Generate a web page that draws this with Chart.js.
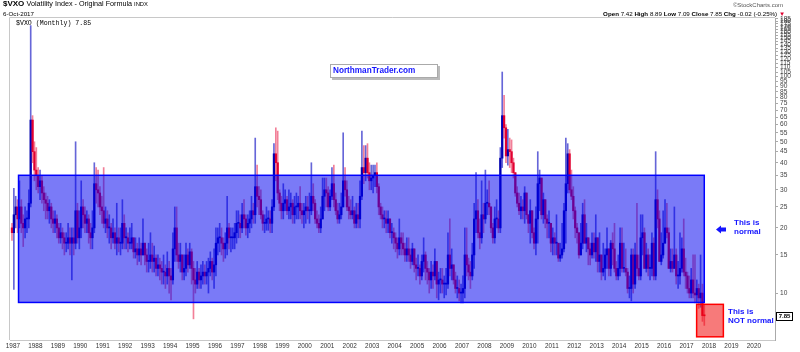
<!DOCTYPE html>
<html>
<head>
<meta charset="utf-8">
<title>$VXO Monthly</title>
<script src="https://cdn.jsdelivr.net/npm/chart.js@4.4.1/dist/chart.umd.min.js"></script>
<style>
    body { margin: 0; background: #fff; }
    #wrap { position: relative; width: 800px; height: 352px; font-family: "Liberation Sans", Arial, sans-serif; overflow: hidden; }
    #vxoChart { position: absolute; left: 0; top: 0; }
    .t { position: absolute; white-space: nowrap; line-height: 1; color: #000; }
    .note { color: #1414ff; font-weight: bold; font-size: 8px; line-height: 9.3px; }
</style>
</head>
<body>
<div id="wrap">
    <canvas id="vxoChart" width="800" height="352"></canvas>

    <div class="t" style="left:3px;top:0px;font-size:8px;font-weight:bold;">$VXO <span style="font-weight:normal;font-size:7.2px;">Volatility Index - Original Formula <span style="font-size:5.8px;">INDX</span></span></div>
    <div class="t" style="left:3px;top:10.5px;font-size:6.2px;">6-Oct-2017</div>
    <div class="t" style="left:16px;top:21px;font-size:6.6px;font-family:'Liberation Mono',monospace;">$VXO (Monthly) 7.85</div>

    <div class="t" style="right:17px;top:2px;font-size:6px;color:#555;">&copy;StockCharts.com</div>
    <div class="t" style="right:15px;top:11px;font-size:6.2px;"><b>Open</b> 7.42 <b>High</b> 8.89 <b>Low</b> 7.09 <b>Close</b> 7.85 <b>Chg</b> -0.02 (-0.25%) <span style="color:#e00030;">&#9660;</span></div>

    <div class="t" style="left:330px;top:64px;width:106px;height:12px;border:1px solid #aaa;background:#fff;box-shadow:2px 2px 0 #bbb;">
        <span style="position:absolute;left:2px;top:2px;font-size:8.2px;font-weight:bold;color:#1414ff;">NorthmanTrader.com</span>
    </div>

    <div class="t note" style="left:734px;top:218px;">This is<br>normal</div>
    <div class="t note" style="left:728px;top:307px;">This is<br>NOT normal</div>

    <div class="t" style="left:776px;top:312px;width:15px;height:7px;border:1px solid #000;background:#fff;font-size:6px;font-weight:bold;text-align:center;line-height:7px;">7.85</div>
</div>

<script>
// monthly bars, first bar is Dec 1986
const startYear = 1986;
const startMonth = 11;
const firstOpen = 20;

const closes = [
    19,
    23, 25, 22, 25, 21, 20, 22, 22, 26, 63, 45, 37,               // 1987
    35, 31, 33, 29, 27, 26, 24, 25, 22, 21, 22, 20,               // 1988
    18, 19, 18, 17, 17, 18, 17, 18, 17, 24, 18, 20,               // 1989
    25, 23, 21, 22, 19, 18, 20, 32, 30, 29, 25, 24,               // 1990
    21, 22, 20, 20, 18, 19, 17, 18, 17, 17, 21, 18,               // 1991
    18, 17, 17, 18, 15.5, 16, 15, 16, 15, 17, 15, 14,             // 1992
    14, 15, 14, 14.5, 13, 13.5, 13, 12.5, 12.5, 12, 13, 12,       // 1993
    11.5, 16, 20, 15, 14, 15, 12.5, 13, 15, 13.5, 15.5, 13,       // 1994
    11.5, 11, 12.5, 11.5, 12, 12.5, 12, 12.5, 13, 14, 12.5, 13.5, // 1995
    17, 18, 18, 17, 16, 17, 20, 18, 18, 18, 19, 21,               // 1996
    21, 20, 23, 22, 20, 21, 22, 24, 23, 31, 28, 27,               // 1997
    23, 21, 21, 22, 22, 21, 25, 44, 40, 29, 26, 24,               // 1998
    26, 27, 24, 25, 26, 23, 25, 25, 26, 24, 23, 24,               // 1999
    25, 24, 24, 28, 26, 22, 21, 20, 22, 28, 30, 29,               // 2000
    25, 28, 32, 27, 24, 22, 23, 25, 33, 30, 25, 24,               // 2001
    23, 24, 21, 23, 22, 28, 38, 36, 42, 36, 33, 34,               // 2002
    35, 36, 31, 25, 23, 22, 22, 21, 22, 19, 19, 18,               // 2003
    17, 16, 18, 17, 16, 15, 16, 15, 14, 16, 13.5, 13,             // 2004
    13, 12, 14, 15, 13, 12.5, 11.5, 12.5, 12, 14, 11, 11.5,       // 2005
    11.5, 11, 11, 11, 15, 13, 13.5, 11.5, 10.5, 10.5, 10, 10,     // 2006
    10.5, 15, 13.5, 12.5, 12, 15, 22, 24, 19, 18, 23, 22,         // 2007
    26, 26, 25, 20, 18, 22, 22, 20, 42, 66, 58, 43,               // 2008
    46, 45, 40, 36, 29, 26, 24, 25, 24, 29, 23, 21,               // 2009
    24, 19, 17, 22, 32, 34, 23, 27, 22, 21, 21, 17,               // 2010
    18, 17, 17, 14.5, 15, 16, 24, 32, 44, 30, 28, 24,             // 2011
    20, 19, 15, 17, 23, 17, 18, 16, 15, 17, 15.5, 18,             // 2012
    14, 15, 12.5, 13, 15, 16, 13, 17, 16, 13, 12, 13,             // 2013
    17, 13, 13, 12.5, 10.5, 10.5, 15, 11, 15, 13, 12, 18,         // 2014
    19, 13, 15, 13, 13, 17, 12, 27, 22, 14, 15, 17,               // 2015
    20, 19, 13, 14, 13, 15, 12, 12, 13, 16, 12.5, 12,             // 2016
    10.5, 10, 11.5, 10, 9.8, 10.5, 9.5, 10, 7.87, 7.85            // 2017
];

const highs = [
    21,
    30.5, 28, 27, 33, 27, 23, 25, 24, 30, 172, 66, 50,            // 1987
    47, 38, 37, 35, 31, 29, 28, 27, 26, 24, 24, 23,               // 1988
    21, 21, 20, 19, 19, 21, 20, 20, 20, 50, 26, 24,               // 1989
    33, 27, 25, 24, 23, 21, 24, 40, 38, 37, 31, 28,               // 1990
    38, 25, 24, 23, 21, 22, 20, 26, 20, 20, 27, 23,               // 1991
    20, 19, 20, 21, 18, 18, 17, 18, 17, 22, 17, 16,               // 1992
    17, 19, 17, 16.5, 15, 15, 14.5, 14, 15, 13.5, 15.5, 14,       // 1993
    13, 19, 25, 25, 17, 17, 15, 15, 17, 16, 17, 16,               // 1994
    14, 13, 14, 13, 13.5, 14, 13.5, 14, 14.5, 15.5, 14.5, 16,     // 1995
    20, 20, 21, 20, 18, 19, 28, 21, 20, 20, 21, 24,               // 1996
    24, 23, 26, 27, 23, 23, 24, 28, 26, 52, 39, 31,               // 1997
    30, 24, 23, 25, 24, 24, 27, 49, 58, 56, 30, 28,               // 1998
    32, 30, 28, 30, 29, 27, 28, 29, 28, 31, 26, 26,               // 1999
    28, 28, 29, 40, 32, 27, 24, 23, 25, 34, 34, 34,               // 2000
    31, 30, 38, 39, 29, 26, 26, 29, 55, 38, 33, 28,               // 2001
    27, 28, 25, 26, 26, 33, 56, 48, 48, 49, 40, 39,               // 2002
    39, 39, 40, 32, 26, 25, 24, 24, 24, 22, 21, 20,               // 2003
    19, 18, 22, 19, 19, 17, 18, 18, 16, 17, 16, 14.5,             // 2004
    15, 13.5, 15, 18, 15.5, 14, 13, 14, 13.5, 16, 14, 12.5,       // 2005
    13, 13, 12, 13, 19, 22, 16, 13.5, 12.5, 12, 11.5, 11,         // 2006
    12, 20, 20, 14.5, 14, 17, 26, 36, 27, 22, 33, 26,             // 2007
    37, 30, 33, 25, 21, 25, 27, 24, 47, 105, 82, 60,              // 2008
    57, 52, 51, 42, 36, 31, 29, 28, 27, 31, 27, 23,               // 2009
    27, 24, 20, 25, 45, 37, 34, 29, 27, 23, 24, 21,               // 2010
    20, 19, 23, 17, 17, 21, 26, 52, 49, 46, 37, 31,               // 2011
    25, 21, 19, 21, 26, 27, 21, 18, 17, 19, 19, 23,               // 2012
    18, 19, 15, 17, 16, 20, 16, 17.5, 19, 21, 14, 15,             // 2013
    20, 20, 17, 16, 13, 12, 16, 16, 17, 26, 15, 23,               // 2014
    23, 20, 17, 16, 15, 19, 18, 45, 30, 24, 19, 24,               // 2015
    27, 26, 20, 16, 16, 25, 16, 14, 19, 18, 22, 14.5,             // 2016
    12.5, 12, 13, 15, 15, 11.5, 11, 15, 11, 8.89                  // 2017
];

const lows = [
    17.5,
    10.4, 20, 19, 20, 19, 16.4, 18, 19, 20, 25, 40, 33,           // 1987
    30, 29, 27, 26, 24, 22, 22, 21, 20, 19, 19, 18,               // 1988
    17, 17, 16, 15, 15.5, 16, 15, 11.5, 15, 16, 17, 16,           // 1989
    18, 20, 19, 19, 17, 16, 16, 19, 26, 25, 23, 21,               // 1990
    20, 19, 18, 17, 16, 17, 16, 15, 15.5, 15, 16, 16,             // 1991
    16, 15.5, 16, 16, 14.5, 14.5, 13.5, 14, 13.5, 15, 13.5, 12.5, // 1992
    12.5, 13, 12.5, 12.5, 12, 12, 11.5, 11, 11, 10.5, 11, 10,     // 1993
    9.3, 11, 14, 14, 13, 12.5, 11.5, 11.5, 12, 12.5, 13, 11,      // 1994
    7.6, 10, 10.5, 10.5, 10.5, 11, 11, 11, 10, 12, 11.5, 10.5,    // 1995
    12, 15, 15.5, 15, 14, 14.5, 15, 16, 15.5, 16, 16, 17,         // 1996
    18, 18, 19, 20, 18.5, 18, 19, 20, 21, 21, 25, 23,             // 1997
    22, 19.5, 19, 19.5, 19.5, 19, 19, 24, 33, 27, 24, 22,         // 1998
    22, 24, 23, 22, 22, 21, 21, 22, 22, 22, 21, 20,               // 1999
    21, 22, 21, 23, 24, 21, 20, 19, 19, 22, 24, 25,               // 2000
    24, 24, 27, 25, 23, 21, 21, 22, 25, 28, 24, 22,               // 2001
    22, 22, 20, 20, 20, 20, 27, 32, 33, 34, 30, 30,               // 2002
    29, 31, 29, 23, 22, 20, 20, 19, 19, 18, 17, 16,               // 2003
    15.5, 14.5, 15, 15, 15, 14, 14, 14, 13, 13.5, 12.5, 11.5,     // 2004
    12, 11, 11.5, 12.5, 11.5, 11, 10, 10.5, 10.5, 11.5, 9.5, 9.3, // 2005
    10, 10, 9.5, 9.8, 10.5, 12, 11.5, 11, 10, 9.5, 9.2, 9.0,      // 2006
    9.0, 9.5, 12, 11.5, 10.5, 11.5, 13, 19, 18, 16, 17, 19,       // 2007
    21, 23, 23, 19, 17, 17, 20, 19, 19, 38, 52, 40,               // 2008
    39, 38, 36, 34, 28, 25, 23, 22, 22, 21, 22, 19,               // 2009
    17, 18, 16, 15, 17, 24, 22, 21, 20, 18, 18, 15.5,             // 2010
    15, 15, 15, 14, 14, 14.5, 15.5, 17, 29, 29, 27, 22,           // 2011
    18, 17, 14.5, 15, 16, 17, 15.5, 13.5, 13.5, 14.5, 14.5, 14,   // 2012
    12.5, 12.5, 11.5, 12, 11.5, 13, 12, 12, 13.5, 12.5, 11.5, 11.5, // 2013
    12, 12.5, 12.5, 12, 10, 9.5, 9.2, 10, 10.5, 12, 11.5, 11.5,   // 2014
    15, 13, 12.5, 12, 11.5, 12, 11.5, 11.5, 20, 14, 13.5, 14.5,   // 2015
    17, 18, 13, 12.5, 12.5, 13, 11, 10.5, 11, 12.5, 12, 10.5,     // 2016
    10, 9.5, 9.5, 9.5, 9.0, 9.0, 8.5, 8.6, 7.4, 7.09              // 2017
];

const yearTicks = [1987, 1988, 1989, 1990, 1991, 1992, 1993, 1994, 1995, 1996, 1997, 1998,
    1999, 2000, 2001, 2002, 2003, 2004, 2005, 2006, 2007, 2008, 2009, 2010, 2011, 2012,
    2013, 2014, 2015, 2016, 2017, 2018, 2019, 2020];
const priceTicks = [10, 15, 20, 25, 30, 35, 40, 45, 50, 55, 60, 65, 70, 75, 80, 85, 90, 95,
    100, 105, 110, 115, 120, 125, 130, 135, 140, 145, 150, 155, 160, 165, 170, 175, 180, 185];

// the two drawn zones (years / index level)
const normalZone = { from: 1987.25, to: 2017.79, low: 9.05, high: 35 };
const notNormalZone = { from: 2017.45, to: 2018.64, low: 6.28, high: 8.87 };

const xMin = 1986.87, xMax = 2020.94;
const yMin = 6.07, yMax = 186.5;

const canvas = document.getElementById("vxoChart");
const ctx = canvas.getContext("2d");

const monthTime = i => startYear + (startMonth + i + 0.5) / 12;
const opens = closes.map((c, i) => (i === 0 ? firstOpen : closes[i - 1]));
const isUp = closes.map((c, i) => c >= opens[i]);

const wickData = closes.map((c, i) => ({
    x: monthTime(i),
    y: [Math.min(lows[i], opens[i], c), Math.max(highs[i], opens[i], c)]
}));
const bodyData = closes.map((c, i) => ({
    x: monthTime(i),
    y: [Math.min(opens[i], c), Math.max(opens[i], c)]
}));

const zonePlugin = {
    id: "zones",
    afterDatasetsDraw(chart) {
        const { ctx, chartArea: a, scales: { x, y } } = chart;
        ctx.save();
        const drawZone = (z, fill, line) => {
            const l = x.getPixelForValue(z.from), r = x.getPixelForValue(z.to);
            const t = y.getPixelForValue(z.high), b = y.getPixelForValue(z.low);
            ctx.fillStyle = fill;
            ctx.fillRect(l, t, r - l, b - t);
            ctx.strokeStyle = line;
            ctx.lineWidth = 1.5;
            ctx.strokeRect(l, t, r - l, b - t);
        };
        drawZone(normalZone, "rgba(0,0,240,0.52)", "#0000ff");
        drawZone(notNormalZone, "rgba(240,0,0,0.52)", "#ff0000");

        // left and top frame
        ctx.strokeStyle = "#c8c8c8";
        ctx.lineWidth = 1;
        ctx.beginPath();
        ctx.moveTo(a.left - 0.5, a.bottom);
        ctx.lineTo(a.left - 0.5, a.top - 0.5);
        ctx.lineTo(a.right, a.top - 0.5);
        ctx.stroke();

        // arrow pointing at the box
        ctx.fillStyle = "#1414ff";
        ctx.beginPath();
        ctx.moveTo(716, 229.5);
        ctx.lineTo(721, 225.5);
        ctx.lineTo(721, 227.5);
        ctx.lineTo(726, 227.5);
        ctx.lineTo(726, 231.5);
        ctx.lineTo(721, 231.5);
        ctx.lineTo(721, 233.5);
        ctx.closePath();
        ctx.fill();
        ctx.restore();
    }
};

new Chart(ctx, {
    type: "bar",
    data: {
        datasets: [
            {
                label: "range",
                data: wickData,
                grouped: false,
                barThickness: 1,
                backgroundColor: isUp.map(u => (u ? "rgba(0,0,190,0.6)" : "rgba(230,0,50,0.5)"))
            },
            {
                label: "open-close",
                data: bodyData,
                grouped: false,
                barThickness: 1.6,
                minBarLength: 1,
                backgroundColor: isUp.map(u => (u ? "#0000a8" : "#e00030"))
            }
        ]
    },
    options: {
        responsive: false,
        animation: false,
        layout: { padding: { left: 10, top: 18, right: 0, bottom: 0 } },
        plugins: {
            legend: { display: false },
            tooltip: { enabled: false }
        },
        scales: {
            x: {
                type: "linear",
                offset: false,
                min: xMin,
                max: xMax,
                afterBuildTicks: scale => {
                    scale.ticks = yearTicks.map(v => ({ value: v }));
                },
                afterFit: scale => { scale.height = 12; },
                grid: { display: true, drawOnChartArea: false, drawTicks: false },
                border: { display: true, color: "#c8c8c8" },
                ticks: {
                    autoSkip: false,
                    maxRotation: 0,
                    padding: 2,
                    color: "#333",
                    font: { family: "Liberation Sans", size: 6.4 },
                    callback: v => String(v)
                }
            },
            y: {
                type: "logarithmic",
                position: "right",
                min: yMin,
                max: yMax,
                afterBuildTicks: scale => {
                    scale.ticks = priceTicks.filter(v => v <= yMax).map(v => ({ value: v }));
                },
                afterFit: scale => { scale.width = 25; },
                grid: { display: true, drawOnChartArea: false, tickLength: 3, color: "#aaa" },
                border: { display: true, color: "#aaa", dash: [1, 1] },
                ticks: {
                    autoSkip: false,
                    padding: 2,
                    color: "#444",
                    font: { family: "Liberation Sans", size: 6.6 },
                    callback: v => String(v)
                }
            }
        }
    },
    plugins: [zonePlugin]
});
</script>
</body>
</html>
